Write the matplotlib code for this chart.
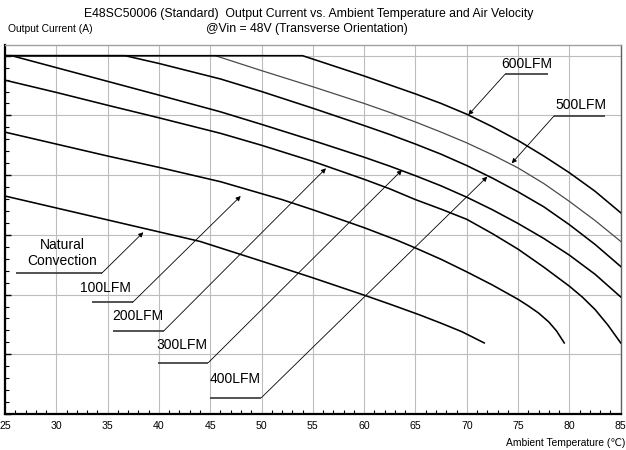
import matplotlib
matplotlib.use('Agg')
import matplotlib.pyplot as plt
from matplotlib.ticker import MultipleLocator, NullFormatter

plt.rcParams['font.family'] = ['Liberation Sans', 'DejaVu Sans']

# ---- data ----
temp_nc = [25, 30, 35, 40, 44, 50, 55, 60, 62.5, 65.4, 67.5, 69.5, 71.7]
cur_nc = [3.65, 3.45, 3.25, 3.05, 2.89, 2.56, 2.28, 1.99, 1.84, 1.66, 1.52, 1.38, 1.19]

temp_100 = [25, 30, 35, 40, 46, 50, 52, 55, 60, 63.2, 65, 67.5, 70, 72.5, 75, 76, 77,
            78, 78.75, 79.5]
cur_100 = [4.72, 4.52, 4.32, 4.13, 3.89, 3.69, 3.59, 3.42, 3.12, 2.91, 2.78, 2.59, 2.38,
           2.16, 1.92, 1.81, 1.69, 1.54, 1.39, 1.19]

temp_200 = [25, 30, 35, 40, 46, 50, 55, 60, 62.5, 65, 67.5, 70, 72.5, 75, 77.5, 80,
            81.25, 82.5, 83.75, 85]
cur_200 = [5.59, 5.385, 5.17, 4.96, 4.70, 4.50, 4.23, 3.93, 3.77, 3.59, 3.43, 3.26,
           3.02, 2.76, 2.46, 2.14, 1.96, 1.75, 1.49, 1.19]

temp_300 = [25, 25.65, 30, 35, 40, 46, 50, 55, 60, 62.5, 65, 67.5, 70, 72.5, 75, 77.5,
            80, 82.5, 85]
cur_300 = [6.0, 6.0, 5.80, 5.57, 5.34, 5.06, 4.85, 4.58, 4.30, 4.15, 3.99, 3.82, 3.63,
           3.42, 3.19, 2.94, 2.66, 2.34, 1.96]

temp_400 = [25, 36.7, 40, 43, 46, 50, 55, 60, 62.5, 65, 67.5, 70, 72.5, 75, 77.5, 80,
            82.5, 85]
cur_400 = [6.0, 6.0, 5.87, 5.74, 5.61, 5.40, 5.12, 4.83, 4.68, 4.52, 4.35, 4.16, 3.95,
           3.72, 3.47, 3.17, 2.84, 2.47]

temp_500 = [25, 45.5, 50, 55, 60, 62.5, 65, 67.5, 70, 72.5, 75, 77.5, 80, 82.5, 85]
cur_500 = [6.0, 6.0, 5.75, 5.48, 5.20, 5.05, 4.89, 4.72, 4.54, 4.34, 4.12, 3.86, 3.56,
           3.24, 2.89]

temp_600 = [25, 54.0, 57, 60, 62.5, 65, 67.5, 70, 72.5, 75, 77.5, 80, 82.5, 85]
cur_600 = [6.0, 6.0, 5.83, 5.66, 5.51, 5.36, 5.20, 5.02, 4.81, 4.58, 4.32, 4.04, 3.73, 3.37]

series_labels = ['Natural\nConvection', '100LFM', '200LFM', '300LFM',
                 '400LFM', '500LFM', '600LFM']
series_temps = [temp_nc, temp_100, temp_200, temp_300, temp_400, temp_500, temp_600]
series_curs = [cur_nc, cur_100, cur_200, cur_300, cur_400, cur_500, cur_600]

title_1 = 'E48SC50006 (Standard)  Output Current vs. Ambient Temperature and Air Velocity'
title_2 = '@Vin = 48V (Transverse Orientation)'
y_title = 'Output Current (A)'
x_title = 'Ambient Temperature (\u2103)'

# annotation layout (data coordinates)
label_pos = [(30.55, 2.70), (34.74, 2.105), (37.91, 1.646), (42.2, 1.155),
             (47.41, 0.581), (81.08, 5.174), (75.84, 5.861)]
underline = [(26.07, 34.42, 2.356), (33.45, 37.44, 1.870), (35.55, 40.49, 1.395),
             (39.88, 44.81, 0.859), (44.98, 49.98, 0.273), (78.5, 83.47, 4.99),
             (73.72, 77.94, 5.688)]
arrow_tip = [(38.48, 3.043), (47.97, 3.65), (56.28, 4.114), (63.69, 4.086),
             (72.0, 3.974), (74.38, 4.198), (70.15, 5.007)]
leader_from_left = [False, False, False, False, False, True, True]

fig = plt.figure(figsize=(6.26, 4.5), dpi=100)
ax = fig.add_axes([5 / 626, 36 / 450, 615.7 / 626, 369.3 / 450])

ax.set_xlim(25, 85)
ax.set_ylim(0, 6.184)

for i, (t, c) in enumerate(zip(series_temps, series_curs)):
    if i == 5:
        ax.plot(t, c, color='#4a4a4a', lw=0.9, zorder=3)
    else:
        ax.plot(t, c, color='black', lw=1.15, zorder=3)

for lab, pos, ul, tip, fl in zip(series_labels, label_pos, underline, arrow_tip, leader_from_left):
    ax.text(pos[0], pos[1], lab, ha='center', va='center', fontsize=10,
            linespacing=1.15, zorder=5)
    ax.plot([ul[0], ul[1]], [ul[2], ul[2]], color='#444444', lw=1.3, zorder=4,
            solid_capstyle='butt')
    start = (ul[0], ul[2]) if fl else (ul[1], ul[2])
    ax.annotate('', xy=tip, xytext=start,
                arrowprops=dict(arrowstyle='-|>', color='black', lw=0.6,
                                mutation_scale=7, shrinkA=0, shrinkB=0),
                zorder=5)

ax.xaxis.set_major_locator(MultipleLocator(5))
ax.xaxis.set_minor_locator(MultipleLocator(1))
ax.yaxis.set_major_locator(MultipleLocator(1))
ax.yaxis.set_minor_locator(MultipleLocator(0.2))
ax.yaxis.set_major_formatter(NullFormatter())
ax.grid(True, which='major', color='#bdbdbd', lw=0.8, zorder=0)
ax.set_axisbelow(True)

ax.tick_params(axis='x', which='major', direction='in', length=0, pad=5,
               labelsize=7.6)
ax.tick_params(axis='x', which='minor', direction='in', length=3, width=0.8)
ax.tick_params(axis='y', which='major', direction='in', length=4, width=1.0)
ax.tick_params(axis='y', which='minor', direction='in', length=3, width=0.8)

for s in ['left', 'bottom']:
    ax.spines[s].set_color('black')
    ax.spines[s].set_linewidth(1.6)
ax.spines['top'].set_color('#a0a0a0')
ax.spines['top'].set_linewidth(1.0)
ax.spines['right'].set_color('#606060')
ax.spines['right'].set_linewidth(1.0)

fig.text(309 / 626, 1 - 14 / 450, title_1, ha='center', va='center', fontsize=8.8)
fig.text(306.7 / 626, 1 - 29.3 / 450, title_2, ha='center', va='center', fontsize=8.8)
fig.text(8 / 626, 1 - 29.3 / 450, y_title, ha='left', va='center', fontsize=7.4)
fig.text(625 / 626, 1 - 442.7 / 450, x_title, ha='right', va='center', fontsize=7.4)

fig.savefig('out.png', dpi=100)
